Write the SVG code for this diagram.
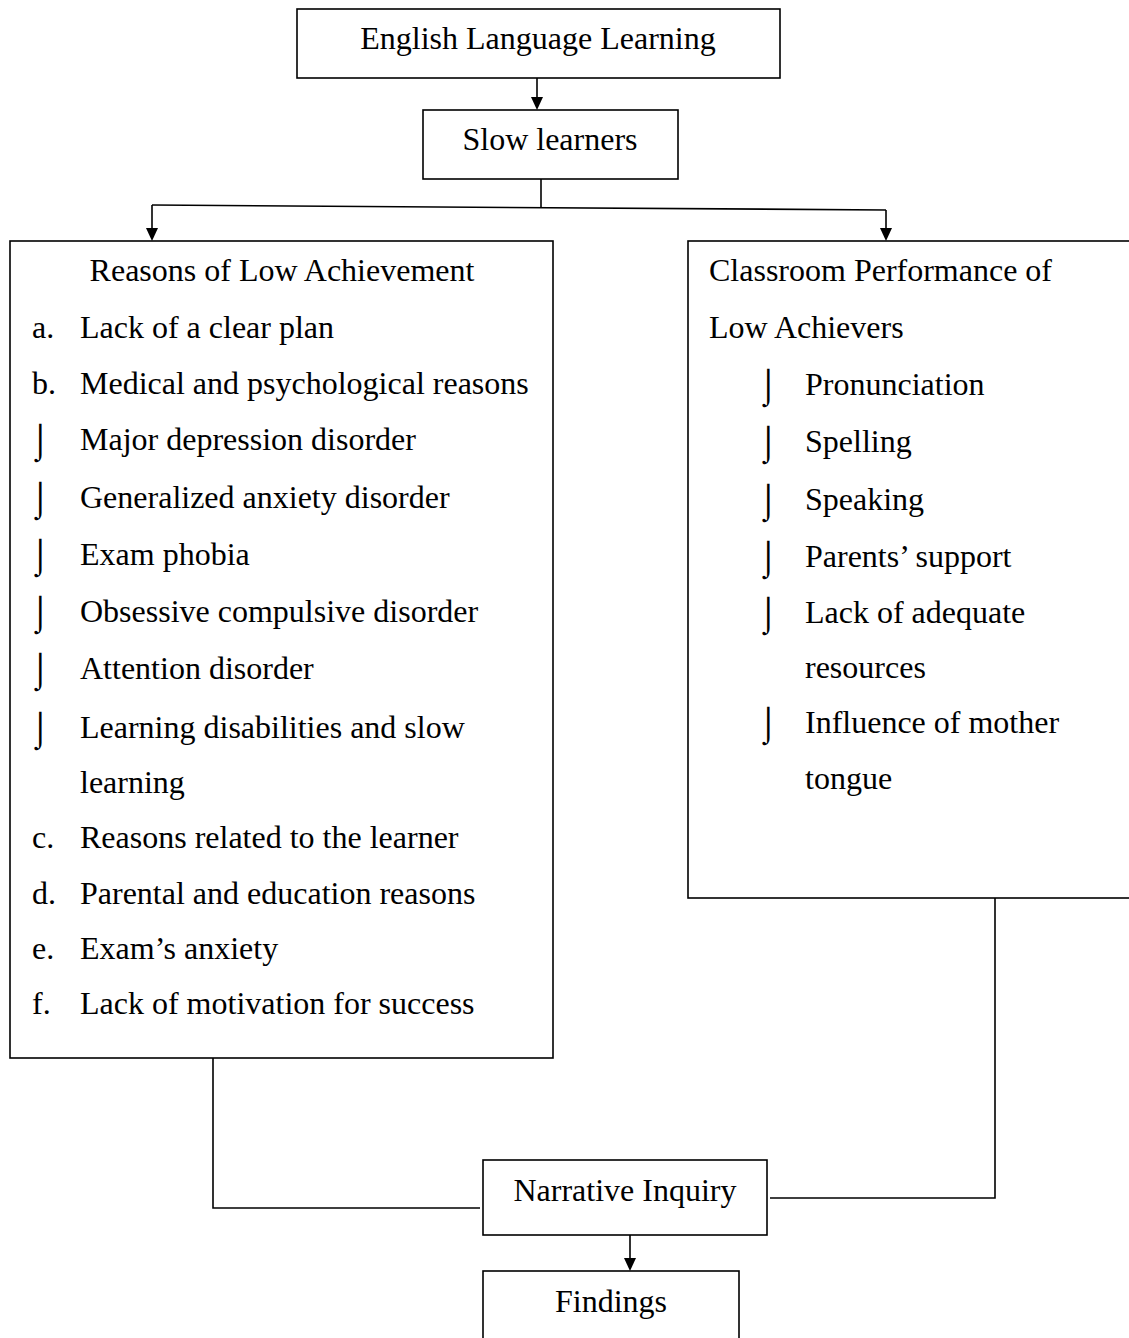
<svg xmlns="http://www.w3.org/2000/svg" width="1129" height="1338" viewBox="0 0 1129 1338">
<style>
.box{fill:#fff;stroke:#000;stroke-width:1.6}
.t{font-family:"Liberation Serif","Times New Roman",serif;font-size:32px;fill:#000}
.c{text-anchor:middle}
.b{font-family:"DejaVu Sans",sans-serif;font-weight:200;font-size:34px;fill:#000}
.ln{fill:none;stroke:#000;stroke-width:1.6}
</style>
<g id="connectors">
<line class="ln" x1="537" y1="78" x2="537" y2="100"/>
<path d="M531,97 L543,97 L537,110 Z" fill="#000"/>
<line class="ln" x1="541" y1="179" x2="541" y2="207"/>
<line class="ln" x1="152" y1="205" x2="886" y2="210"/>
<line class="ln" x1="152" y1="205" x2="152" y2="230"/>
<path d="M146,228 L158,228 L152,241 Z" fill="#000"/>
<line class="ln" x1="886" y1="210" x2="886" y2="230"/>
<path d="M880,228 L892,228 L886,241 Z" fill="#000"/>
<polyline class="ln" points="213,1058 213,1208 480,1208"/>
<polyline class="ln" points="995,898 995,1198 770,1198"/>
<line class="ln" x1="630" y1="1235" x2="630" y2="1260"/>
<path d="M624,1258 L636,1258 L630,1271 Z" fill="#000"/>
</g>
<g id="n-ell">
<rect class="box" x="297" y="9" width="483" height="69"/>
<text class="t c" x="538" y="49">English Language Learning</text>
</g>
<g id="n-slow">
<rect class="box" x="423" y="110" width="255" height="69"/>
<text class="t c" x="550" y="150">Slow learners</text>
</g>
<g id="n-reasons">
<rect class="box" x="10" y="241" width="543" height="817"/>
<text class="t c" x="282" y="281">Reasons of Low Achievement</text>
<text class="t" x="32" y="338">a.</text><text class="t" x="80" y="338">Lack of a clear plan</text>
<text class="t" x="32" y="394">b.</text><text class="t" x="80" y="394">Medical and psychological reasons</text>
<text class="b" x="30" y="452">⌡</text><text class="t" x="80" y="450">Major depression disorder</text>
<text class="b" x="30" y="510">⌡</text><text class="t" x="80" y="508">Generalized anxiety disorder</text>
<text class="b" x="30" y="567">⌡</text><text class="t" x="80" y="565">Exam phobia</text>
<text class="b" x="30" y="624">⌡</text><text class="t" x="80" y="622">Obsessive compulsive disorder</text>
<text class="b" x="30" y="681">⌡</text><text class="t" x="80" y="679">Attention disorder</text>
<text class="b" x="30" y="740">⌡</text><text class="t" x="80" y="738">Learning disabilities and slow</text>
<text class="t" x="80" y="793">learning</text>
<text class="t" x="32" y="848">c.</text><text class="t" x="80" y="848">Reasons related to the learner</text>
<text class="t" x="32" y="904">d.</text><text class="t" x="80" y="904">Parental and education reasons</text>
<text class="t" x="32" y="959">e.</text><text class="t" x="80" y="959">Exam’s anxiety</text>
<text class="t" x="32" y="1014">f.</text><text class="t" x="80" y="1014">Lack of motivation for success</text>
</g>
<g id="n-classroom">
<rect class="box" x="688" y="241" width="450" height="657"/>
<text class="t" x="709" y="281">Classroom Performance of</text>
<text class="t" x="709" y="338">Low Achievers</text>
<text class="b" x="758" y="397">⌡</text><text class="t" x="805" y="395">Pronunciation</text>
<text class="b" x="758" y="454">⌡</text><text class="t" x="805" y="452">Spelling</text>
<text class="b" x="758" y="512">⌡</text><text class="t" x="805" y="510">Speaking</text>
<text class="b" x="758" y="569">⌡</text><text class="t" x="805" y="567">Parents’ support</text>
<text class="b" x="758" y="625">⌡</text><text class="t" x="805" y="623">Lack of adequate</text>
<text class="t" x="805" y="678">resources</text>
<text class="b" x="758" y="735">⌡</text><text class="t" x="805" y="733">Influence of mother</text>
<text class="t" x="805" y="789">tongue</text>
</g>
<g id="n-narrative">
<rect class="box" x="483" y="1160" width="284" height="75"/>
<text class="t c" x="625" y="1201">Narrative Inquiry</text>
</g>
<g id="n-findings">
<rect class="box" x="483" y="1271" width="256" height="80"/>
<text class="t c" x="611" y="1312">Findings</text>
</g>
</svg>
